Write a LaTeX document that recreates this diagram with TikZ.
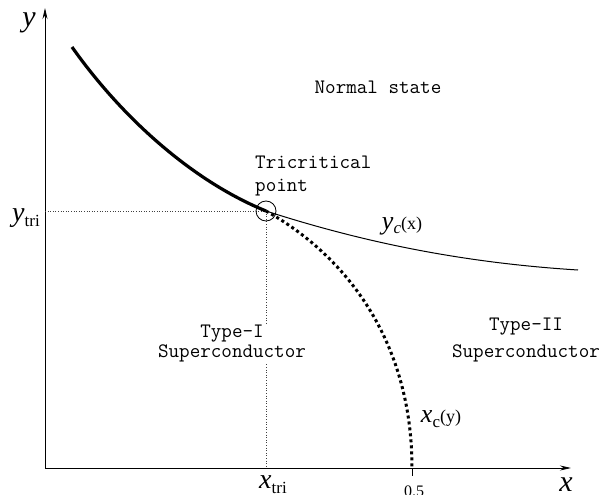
\documentclass[tikz,border=0pt]{standalone}
\usepackage{fontspec}
\setmainfont{Liberation Serif}
\usetikzlibrary{arrows.meta}
\newcommand{\axlab}[1]{{\fontsize{30}{30}\selectfont\itshape #1}}
\newcommand{\trilab}[1]{{\fontsize{28}{28}\selectfont\itshape #1}\raisebox{-5pt}{\fontsize{17}{17}\selectfont tri}}
\newcommand{\ylab}[2]{{\fontsize{26}{26}\selectfont\itshape #1}\raisebox{-4pt}{\fontsize{17}{17}\selectfont\itshape c}{\fontsize{18}{18}\selectfont(#2)}}
\newcommand{\xlab}[2]{{\fontsize{26}{26}\selectfont\itshape #1}\raisebox{-5pt}{\fontsize{17}{17}\selectfont c}{\fontsize{18}{18}\selectfont(#2)}}
\tikzset{
  phase/.style={font=\fontsize{20.5}{22}\selectfont\ttfamily, align=center, inner sep=1pt},
  guide/.style={dotted, line width=0.6pt, black!75},
  axis/.style={line width=0.8pt, -{Stealth[length=11pt,width=5pt]}},
}

\begin{document}
\begin{tikzpicture}[x=1pt,y=-1pt]
  \useasboundingbox (0,0) rectangle (611,495);
  % axes
  \coordinate (O) at (45,468);
  \coordinate (ytip) at (45,8);
  \coordinate (xtip) at (571,468);
  \draw[axis] (O) -- (ytip);
  \draw[axis] (O) -- (xtip);
  \node[anchor=base] (yname) at (29,27) {\axlab{y}};
  \node[anchor=base] (xname) at (566,491) {\axlab{x}};

  % tricritical point and guides
  \coordinate (P) at (266,211);
  \coordinate (yt) at (45,211);
  \coordinate (xt) at (266,468);
  \draw[guide] (yt) -- (P);
  \draw[guide] (P) -- (xt);
  \node[anchor=base] (ytri) at (26,221) {\trilab{y}};
  \node[anchor=base] (xtri) at (273,488) {\trilab{x}};
  \coordinate (H) at (412,468);
  \coordinate (Hb) at (412,476);
  \draw[line width=0.8pt] (H) -- (Hb);
  \node[anchor=base] (half) at (414,496) {\fontsize{16}{16}\selectfont 0.5};

  % phase boundaries
  \draw[line width=3.2pt] (72,47) .. controls (120,115) and (190,180) .. (P);
  \draw[line width=1pt] (P) .. controls (350,238) and (450,262) .. (578,270);
  \draw[line width=3pt, dash pattern=on 3pt off 3pt] (P) .. controls (345,255) and (412,340) .. (H);
  \node[circle, draw, line width=0.8pt, minimum size=20pt, inner sep=0pt] (tcp) at (P) {};

  % labels
  \node[anchor=base] (yc) at (402,229) {\ylab{y}{x}};
  \node[anchor=base] (xc) at (441,422) {\xlab{x}{y}};
  \node[phase] (normal) at (378,87) {Normal state};
  \node[phase, align=left, anchor=west] (tricrit) at (254,176) {Tricritical\\[1pt]point};
  \node[phase, fill=white] (typeI) at (232,344) {Type-I\\[-2pt]Superconductor};
  \node[phase] (typeII) at (526,340) {Type-II\\[5pt]Superconductor};
\end{tikzpicture}
\end{document}
